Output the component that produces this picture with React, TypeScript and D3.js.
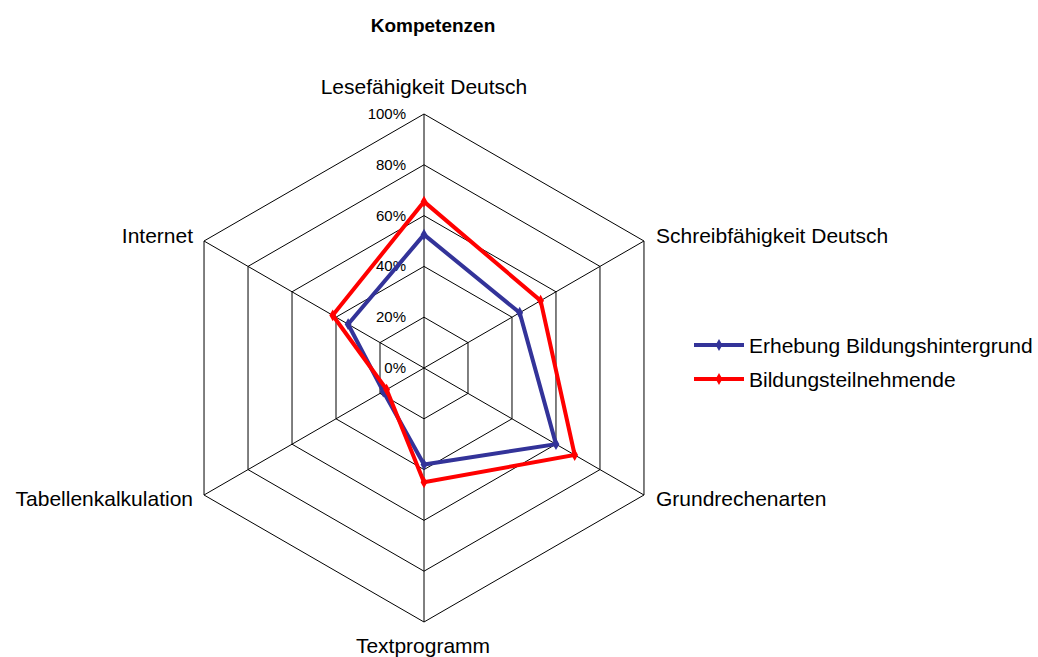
import React from "react";
import * as d3 from "d3";

const categories = [
  "Lesefähigkeit Deutsch",
  "Schreibfähigkeit Deutsch",
  "Grundrechenarten",
  "Textprogramm",
  "Tabellenkalkulation",
  "Internet",
];
const erhebung = [0.525, 0.435, 0.6, 0.38, 0.185, 0.345];
const teilnehmende = [0.655, 0.53, 0.685, 0.45, 0.17, 0.415];
const ticks = [0, 0.2, 0.4, 0.6, 0.8, 1.0];
const seriesNames = ["Erhebung Bildungshintergrund", "Bildungsteilnehmende"];
const seriesColors = ["#333399", "#FF0000"];

const W = 1038;
const H = 657;
const cx = 424;
const cy = 368;
const R = 254;
const FONT = "Liberation Sans, Arial, sans-serif";

export default function App() {
  const r = d3.scaleLinear().domain([0, 1]).range([0, R]);
  const ang = (i: number) => (i * 2 * Math.PI) / categories.length;
  const pt = (i: number, v: number): [number, number] => [
    cx + r(v) * Math.sin(ang(i)),
    cy - r(v) * Math.cos(ang(i)),
  ];
  const closed = d3.line().curve(d3.curveLinearClosed);
  const series = [erhebung, teilnehmende];
  const diamond = d3.symbol().type(d3.symbolDiamond).size(40)();

  const labelPos = [
    { dx: 0, dy: -20, anchor: "middle" },
    { dx: 12, dy: 2, anchor: "start" },
    { dx: 12, dy: 11, anchor: "start" },
    { dx: -1, dy: 31, anchor: "middle" },
    { dx: -11, dy: 11, anchor: "end" },
    { dx: -11, dy: 2, anchor: "end" },
  ];

  return (
    <svg
      width={W}
      height={H}
      style={{ position: "absolute", left: 0, top: 0, background: "#fff" }}
    >
      <text
        x={433}
        y={32}
        textAnchor="middle"
        fontFamily={FONT}
        fontWeight="bold"
        fontSize={19}
      >
        Kompetenzen
      </text>
      {ticks.slice(1).map((t) => (
        <path
          key={t}
          d={closed(categories.map((_, i) => pt(i, t))) || ""}
          fill="none"
          stroke="#000"
          strokeWidth={1}
        />
      ))}
      {categories.map((c, i) => {
        const [x, y] = pt(i, 1);
        return (
          <line key={c} x1={cx} y1={cy} x2={x} y2={y} stroke="#000" strokeWidth={1} />
        );
      })}
      {ticks.map((t) => (
        <text
          key={"t" + t}
          x={406}
          y={cy - r(t) + 5}
          textAnchor="end"
          fontFamily={FONT}
          fontSize={15}
        >
          {d3.format(".0%")(t)}
        </text>
      ))}
      {categories.map((c, i) => {
        const [x, y] = pt(i, 1);
        const p = labelPos[i];
        return (
          <text
            key={"l" + c}
            x={x + p.dx}
            y={y + p.dy}
            textAnchor={p.anchor as any}
            fontFamily={FONT}
            fontSize={21}
          >
            {c}
          </text>
        );
      })}
      {series.map((s, k) => (
        <g key={k}>
          <path
            d={closed(s.map((v, i) => pt(i, v))) || ""}
            fill="none"
            stroke={seriesColors[k]}
            strokeWidth={4}
            strokeLinejoin="miter"
          />
          {s.map((v, i) => {
            const [x, y] = pt(i, v);
            return (
              <path
                key={i}
                d={diamond || ""}
                transform={`translate(${x},${y})`}
                fill={seriesColors[k]}
              />
            );
          })}
        </g>
      ))}
      {seriesNames.map((n, k) => {
        const y = 345 + k * 34;
        return (
          <g key={n}>
            <line x1={694} x2={744} y1={y} y2={y} stroke={seriesColors[k]} strokeWidth={4} />
            <path d={diamond || ""} transform={`translate(719,${y})`} fill={seriesColors[k]} />
            <text x={749} y={y + 8} fontFamily={FONT} fontSize={21}>
              {n}
            </text>
          </g>
        );
      })}
    </svg>
  );
}
